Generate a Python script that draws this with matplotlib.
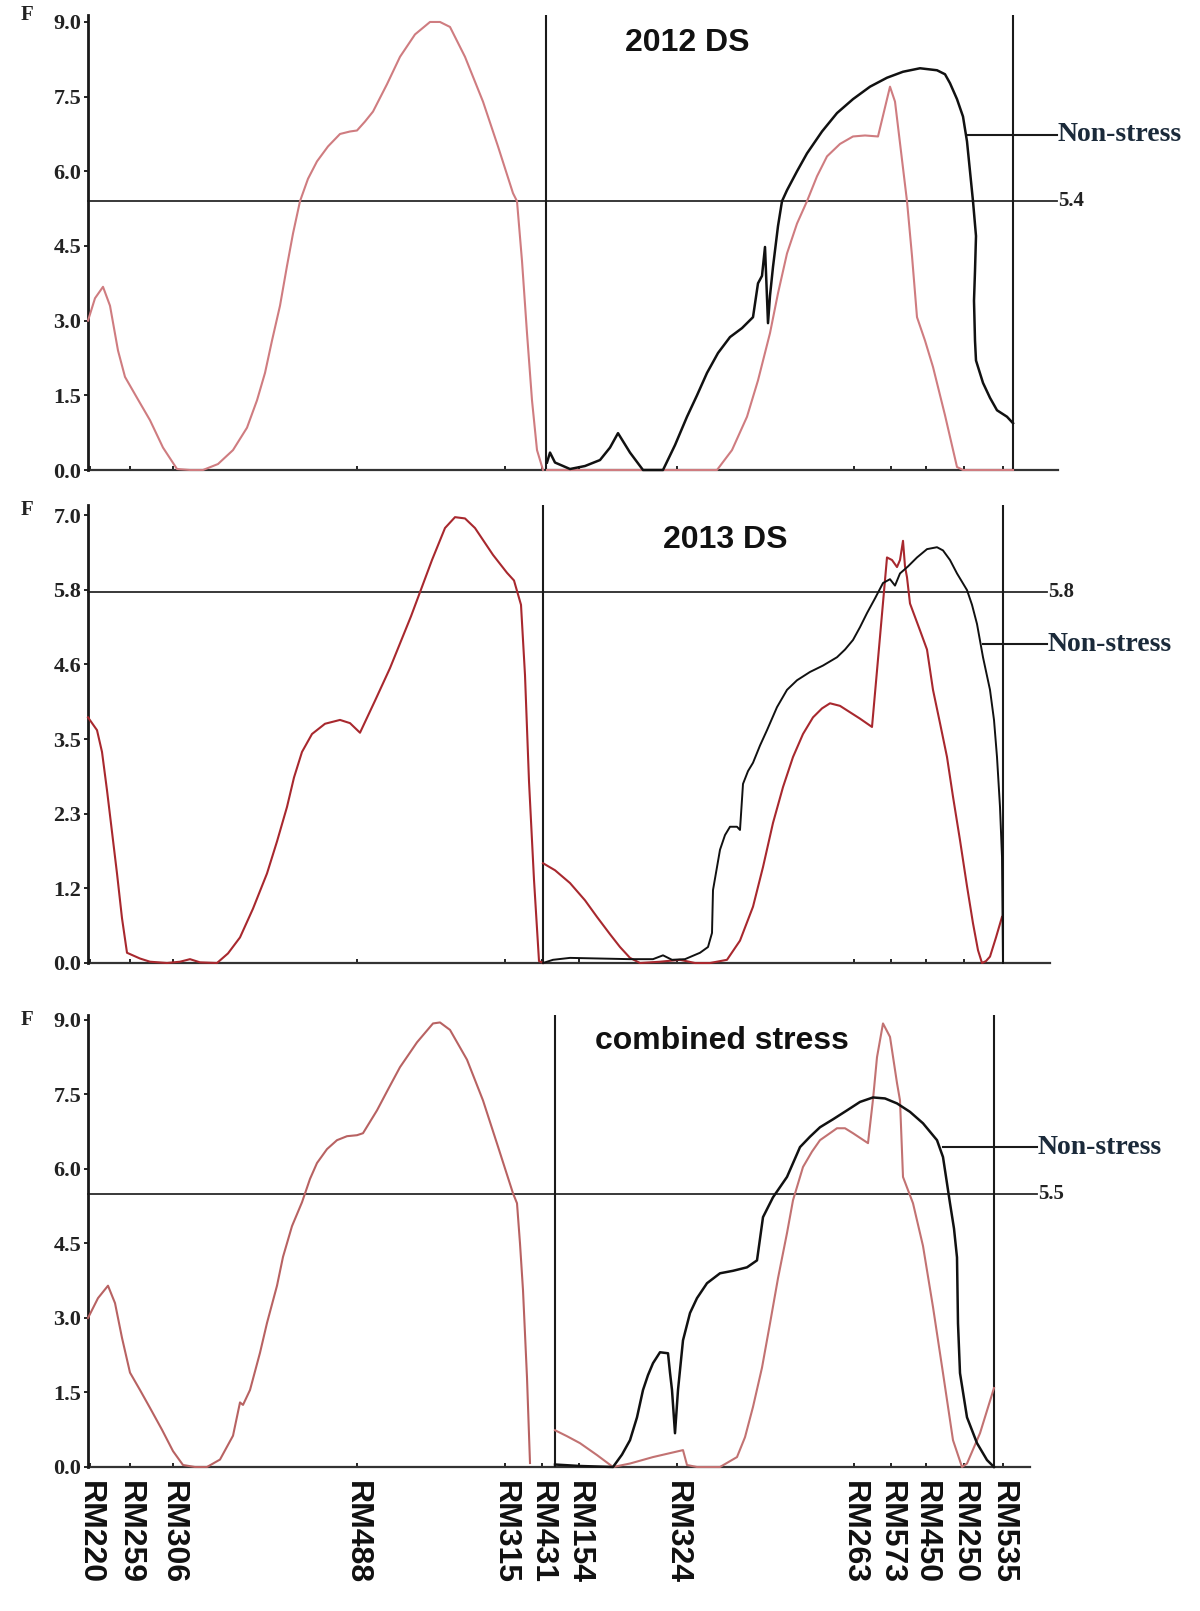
import matplotlib
matplotlib.use('Agg')
import matplotlib.pyplot as plt

# marker names and map positions (cM, origin at RM220)
markers = ['RM220', 'RM259', 'RM306', 'RM488', 'RM315', 'RM431', 'RM154',
           'RM324', 'RM263', 'RM573', 'RM450', 'RM250', 'RM535']
marker_pos = [2, 42, 85, 269, 417, 454, 491, 589, 766, 803, 838, 876, 915]

# ---- 2012 DS ----
ds12_a_x = [0, 7, 15, 22, 30, 37, 49, 62, 75, 89, 102, 115, 130, 145, 159, 169, 177, 184, 192,
            199, 205, 212, 220, 229, 240, 252, 262, 269, 277, 285, 299, 312, 327, 342, 352, 362,
            377, 395, 410, 425, 429, 434, 439, 444, 449, 455]
ds12_a_f = [3.0, 3.45, 3.68, 3.3, 2.4, 1.87, 1.45, 1.0, 0.45, 0.02, 0.0, 0.0, 0.12, 0.4, 0.85, 1.4,
            1.95, 2.6, 3.3, 4.1, 4.75, 5.4, 5.85, 6.2, 6.5, 6.75, 6.8, 6.82, 7.0, 7.2, 7.75, 8.3,
            8.75, 9.0, 9.0, 8.9, 8.3, 7.4, 6.5, 5.56, 5.4, 4.2, 2.75, 1.4, 0.4, 0.0]
ds12_b_x = [459, 512, 592, 629, 644, 659, 670, 682, 690, 699, 709, 719, 729, 739, 752, 765, 777,
            790, 796, 802, 807, 813, 819, 824, 829, 837, 845, 857, 869, 875, 925]
ds12_b_f = [0.0, 0.0, 0.0, 0.0, 0.4, 1.07, 1.8, 2.75, 3.55, 4.35, 4.95, 5.4, 5.9, 6.3, 6.55, 6.7,
            6.72, 6.7, 7.2, 7.7, 7.4, 6.4, 5.4, 4.3, 3.07, 2.6, 2.07, 1.1, 0.06, 0.0, 0.0]
ds12_ns_x = [459, 462, 467, 482, 497, 512, 522, 530, 542, 555, 575, 587, 599, 609, 619, 630, 642,
             654, 665, 670, 674, 677, 680, 682, 685, 690, 694, 699, 709, 719, 734, 749, 765, 782,
             799, 815, 832, 849, 857, 862, 869, 875, 879, 882, 885, 888, 887, 886, 887, 888, 895,
             902, 909, 919, 925]
ds12_ns_f = [0.15, 0.35, 0.15, 0.02, 0.08, 0.2, 0.45, 0.74, 0.35, 0.0, 0.0, 0.5, 1.07, 1.5, 1.95,
             2.35, 2.67, 2.85, 3.07, 3.75, 3.9, 4.48, 2.95, 3.5, 4.08, 4.9, 5.4, 5.62, 6.0, 6.36,
             6.8, 7.17, 7.45, 7.7, 7.88, 8.0, 8.07, 8.03, 7.95, 7.77, 7.45, 7.1, 6.6, 6.0, 5.4,
             4.7, 4.0, 3.4, 2.6, 2.2, 1.75, 1.45, 1.2, 1.07, 0.94]

# ---- 2013 DS ----
ds13_a_x = [0, 9, 14, 19, 24, 29, 34, 39, 52, 62, 79, 92, 102, 112, 129, 140, 152, 165, 179, 189,
            199, 206, 214, 224, 237, 252, 262, 272, 287, 302, 323, 344, 357, 367, 377, 387, 405,
            419, 426, 433, 437, 441, 446, 451, 455]
ds13_a_f = [3.84, 3.64, 3.3, 2.7, 2.05, 1.4, 0.7, 0.16, 0.07, 0.02, 0.0, 0.02, 0.06, 0.01, 0.0,
            0.15, 0.4, 0.85, 1.4, 1.9, 2.44, 2.9, 3.3, 3.58, 3.74, 3.8, 3.75, 3.6, 4.1, 4.61, 5.42,
            6.3, 6.8, 6.97, 6.95, 6.8, 6.38, 6.1, 5.98, 5.6, 4.5, 2.84, 1.3, 0.03, 0.0]
ds13_b_x = [455, 467, 482, 497, 509, 522, 532, 542, 552, 572, 592, 607, 622, 639, 652, 665, 675,
            685, 695, 705, 715, 725, 734, 742, 752, 759, 772, 784, 792, 799, 804, 809, 812, 815,
            817, 819, 822, 832, 839, 845, 852, 859, 865, 872, 879, 885, 890, 894, 898, 902, 908,
            914]
ds13_b_f = [1.56, 1.45, 1.25, 0.98, 0.72, 0.45, 0.25, 0.08, 0.0, 0.02, 0.05, 0.0, 0.0, 0.05, 0.35,
            0.88, 1.5, 2.19, 2.75, 3.22, 3.58, 3.84, 3.98, 4.06, 4.02, 3.95, 3.82, 3.69, 5.1,
            6.34, 6.3, 6.19, 6.3, 6.6, 6.2, 6.03, 5.62, 5.2, 4.9, 4.27, 3.75, 3.22, 2.6, 1.92,
            1.2, 0.62, 0.2, 0.0, 0.03, 0.1, 0.4, 0.72]
ds13_ns_x = [455, 465, 482, 512, 542, 565, 575, 584, 597, 612, 620, 624, 625, 629, 632, 637, 642,
             649, 652, 655, 660, 665, 672, 679, 689, 699, 709, 722, 735, 749, 757, 765, 772, 779,
             787, 795, 802, 807, 812, 820, 829, 839, 849, 855, 862, 869, 879, 884, 889, 895, 902,
             906, 909, 912, 914, 915]
ds13_ns_f = [0.0, 0.05, 0.08, 0.07, 0.06, 0.06, 0.12, 0.05, 0.06, 0.16, 0.25, 0.47, 1.14, 1.5,
             1.77, 2.0, 2.13, 2.13, 2.08, 2.8, 3.0, 3.13, 3.4, 3.64, 4.0, 4.27, 4.42, 4.55, 4.65,
             4.78, 4.9, 5.05, 5.25, 5.47, 5.7, 5.94, 6.0, 5.9, 6.09, 6.2, 6.34, 6.47, 6.5, 6.45,
             6.3, 6.09, 5.83, 5.6, 5.3, 4.78, 4.27, 3.8, 3.22, 2.44, 1.66, 0.0]

# ---- combined stress ----
cs_a_x = [0, 10, 20, 27, 34, 42, 52, 62, 74, 85, 95, 107, 119, 132, 145, 152, 155, 162, 172, 179,
          189, 195, 204, 214, 222, 229, 239, 249, 259, 269, 275, 282, 289, 300, 312, 329, 345,
          352, 362, 379, 395, 410, 425, 429, 432, 435, 439, 442]
cs_a_f = [3.0, 3.4, 3.65, 3.3, 2.6, 1.9, 1.55, 1.19, 0.75, 0.32, 0.04, 0.0, 0.0, 0.15, 0.63, 1.3,
          1.25, 1.55, 2.3, 2.9, 3.65, 4.23, 4.85, 5.33, 5.8, 6.12, 6.4, 6.58, 6.66, 6.68, 6.72,
          6.95, 7.18, 7.6, 8.05, 8.55, 8.93, 8.95, 8.8, 8.2, 7.38, 6.45, 5.51, 5.31, 4.5, 3.56,
          1.8, 0.08]
cs_b_x = [467, 479, 492, 509, 525, 542, 565, 595, 599, 609, 632, 649, 657, 665, 674, 682, 690,
          699, 705, 715, 724, 732, 749, 757, 765, 780, 785, 789, 795, 802, 809, 812, 815, 825,
          835, 845, 855, 865, 874, 879, 892, 906]
cs_b_f = [0.74, 0.62, 0.48, 0.24, 0.0, 0.07, 0.2, 0.34, 0.04, 0.0, 0.0, 0.2, 0.6, 1.21, 2.0, 2.89,
          3.8, 4.71, 5.37, 6.04, 6.35, 6.58, 6.82, 6.82, 6.72, 6.52, 7.4, 8.25, 8.93, 8.66, 7.73,
          7.38, 5.84, 5.31, 4.45, 3.22, 1.89, 0.54, 0.0, 0.07, 0.68, 1.59]
cs_ns_x = [467, 492, 525, 534, 542, 549, 555, 560, 565, 572, 580, 582, 584, 587, 590, 595, 602,
           609, 619, 632, 645, 659, 669, 675, 685, 699, 712, 722, 732, 745, 759, 772, 785, 797,
           809, 822, 835, 849, 855, 859, 862, 866, 869, 870, 872, 879, 889, 899, 906]
cs_ns_f = [0.05, 0.02, 0.0, 0.25, 0.54, 1.0, 1.55, 1.85, 2.09, 2.31, 2.29, 1.9, 1.55, 0.68, 1.55,
           2.55, 3.1, 3.4, 3.7, 3.9, 3.95, 4.02, 4.16, 5.03, 5.43, 5.84, 6.44, 6.65, 6.84, 7.0,
           7.18, 7.35, 7.44, 7.42, 7.32, 7.15, 6.92, 6.58, 6.24, 5.71, 5.31, 4.8, 4.22, 2.89,
           1.89, 1.0, 0.48, 0.14, 0.0]

titles = ['2012 DS', '2013 DS', 'combined stress']
thresholds = [5.4, 5.8, 5.5]
y_max = [9.14, 7.16, 9.1]
y_ticks = [[0, 1.5, 3, 4.5, 6, 7.5, 9],
           [0, 7 / 6, 14 / 6, 3.5, 28 / 6, 35 / 6, 7],
           [0, 1.5, 3, 4.5, 6, 7.5, 9]]
y_ticklabels = [['0.0', '1.5', '3.0', '4.5', '6.0', '7.5', '9.0'],
                ['0.0', '1.2', '2.3', '3.5', '4.6', '5.8', '7.0'],
                ['0.0', '1.5', '3.0', '4.5', '6.0', '7.5', '9.0']]
chrom_bounds = [[458, 925], [455, 915], [467, 906]]
nonstress_y = [6.73, 4.98, 6.44]

# layout (pixels of the 1200x1611 canvas)
W, H = 1200, 1611
ax_left, ax_right = 88, 1058
panel_px = [(15, 470), (505, 963), (1015, 1467)]
title_pos = [(599, 8.57), (637, 6.61), (634, 8.57)]
f_label_y = [1.0, 0.989, 0.989]
base_end = [970, 962, 942]
line_end = [969, 959, 949]
pointer_start = [879, 895, 855]
red_cols = [('#cf7c80', '#cf7c80'), ('#a8282e', '#a8282e'), ('#b86262', '#c27272')]

series = [
    (ds12_a_x, ds12_a_f, ds12_b_x, ds12_b_f, ds12_ns_x, ds12_ns_f),
    (ds13_a_x, ds13_a_f, ds13_b_x, ds13_b_f, ds13_ns_x, ds13_ns_f),
    (cs_a_x, cs_a_f, cs_b_x, cs_b_f, cs_ns_x, cs_ns_f),
]
ns_lw = [1.8, 1.4, 1.8]

fig = plt.figure(figsize=(W / 100, H / 100), dpi=100)
serif = 'Liberation Serif'
sans = 'Liberation Sans'

for i in range(3):
    top, bot = panel_px[i]
    ax = fig.add_axes([ax_left / W, 1 - bot / H, (ax_right - ax_left) / W, (bot - top) / H])
    ax.set_xlim(0, ax_right - ax_left)
    ax.set_ylim(0, y_max[i])
    for s in ['top', 'right', 'bottom']:
        ax.spines[s].set_visible(False)
    ax.spines['left'].set_linewidth(2.0)
    ax.spines['left'].set_color('#1a1a1a')

    ax_x, ax_f, bx, bf, nx, nf = series[i]
    ax.plot(ax_x, ax_f, color=red_cols[i][0], lw=1.5, zorder=3, clip_on=False)
    ax.plot(bx, bf, color=red_cols[i][1], lw=1.5, zorder=3, clip_on=False)
    ax.plot(nx, nf, color='#111111', lw=ns_lw[i], zorder=4, clip_on=False)

    # baseline, threshold and chromosome boundaries
    ax.plot([0, base_end[i]], [0, 0], color='#333333', lw=1.6, clip_on=False, zorder=2)
    ax.plot([0, line_end[i]], [thresholds[i]] * 2, color='#2a2a2a', lw=1.3, clip_on=False, zorder=2)
    for b in chrom_bounds[i]:
        ax.axvline(b, color='#1a1a1a', lw=1.5, zorder=2)
    ax.text(line_end[i] + 1, thresholds[i], '%.1f' % thresholds[i], family=serif,
            fontweight='bold', fontsize=15, color='#222222', ha='left', va='center')

    # non-stress pointer
    ax.plot([pointer_start[i], line_end[i]], [nonstress_y[i]] * 2, color='#1a1a1a', lw=1.5,
            clip_on=False)
    ax.text(line_end[i] + 1, nonstress_y[i], 'Non-stress', family=serif, fontweight='bold',
            fontsize=20, color='#1b2a3a', ha='left', va='center')

    ax.text(title_pos[i][0], title_pos[i][1], titles[i], family=sans, fontweight='bold',
            fontsize=23, color='#111111', ha='center', va='center')

    ax.set_yticks(y_ticks[i])
    ax.set_yticklabels(y_ticklabels[i], family=serif, fontweight='bold', fontsize=16,
                       color='#222222')
    ax.tick_params(axis='y', direction='out', length=3, width=1.2, pad=2)
    ax.text(-0.063, f_label_y[i], 'F', transform=ax.transAxes, family=serif,
            fontweight='bold', fontsize=15, color='#222222', ha='center', va='center')

    ax.set_xticks(marker_pos)
    if i == 2:
        ax.set_xticklabels(markers, rotation=270, family=sans, fontweight='bold',
                           fontsize=23, color='#111111')
        ax.tick_params(axis='x', direction='in', length=3, width=1.2, pad=10)
    else:
        ax.set_xticklabels([])
        ax.tick_params(axis='x', direction='in', length=3, width=1.2)

fig.savefig('out.png', dpi=100, facecolor='white')
